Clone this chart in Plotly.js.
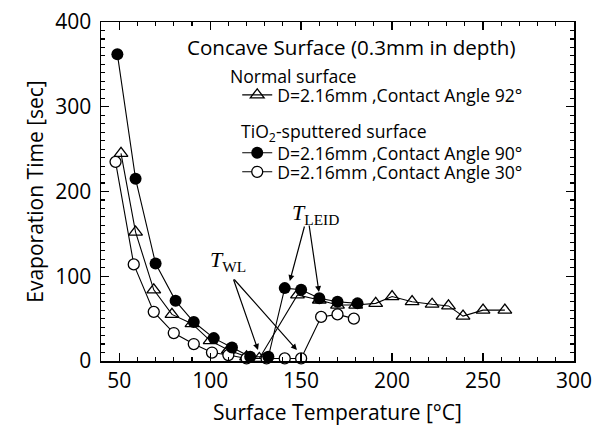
<!DOCTYPE html>
<html>
<head>
<meta charset="utf-8">
<script src="https://cdn.plot.ly/plotly-3.0.1.min.js"></script>
<style>html,body{margin:0;padding:0;background:#fff;}#chart{width:599px;height:431px;}</style>
</head>
<body>
<div id="chart"></div>
<script>
// Normal surface, contact angle 92° (open triangles)
const tempNormal92 = [51, 59, 69, 79, 90, 100, 110, 120, 127, 148, 160, 170, 180, 191, 200, 211, 222, 231, 239, 250, 262];
const timeNormal92 = [245, 152, 84, 55, 44, 24, 13, 5, 3, 78, 72, 66, 66, 68, 76, 70, 67, 65, 53, 60, 60];
// TiO2-sputtered, contact angle 90° (filled circles)
const tempTiO2_90 = [49, 59, 70, 81, 91, 102, 112, 122, 132, 141, 150, 160, 170, 181];
const timeTiO2_90 = [362, 215, 115, 71, 46, 27, 16, 5, 5, 86, 84, 74, 70, 68];
// TiO2-sputtered, contact angle 30° (open circles)
const tempTiO2_30 = [48, 58, 69, 80, 91, 101, 110, 120, 131, 141, 150, 161, 170, 179];
const timeTiO2_30 = [235, 114, 58, 33, 20, 10, 7, 3, 3, 3, 3, 52, 55, 50];

const xTicks = [50, 100, 150, 200, 250, 300];
const yTicks = [0, 100, 200, 300, 400];
const xRange = [40, 300];
const yRange = [0, 400];

const FONT = '"Open Sans", Lato, sans-serif';
const SERIF = '"Liberation Serif", "DejaVu Serif", serif';
const LEG_SIZE = 17.6;

const traces = [
  {x: tempNormal92, y: timeNormal92, mode: 'lines+markers', name: 'D=2.16mm ,Contact Angle 92°',
   legend: 'legend',
   line: {color: '#000', width: 1.1},
   marker: {symbol: 'triangle-up-open', size: 12, color: '#000', line: {width: 1.3, color: '#000'}}, cliponaxis: false},
  {x: tempTiO2_30, y: timeTiO2_30, mode: 'lines+markers', name: 'D=2.16mm ,Contact Angle 30°',
   legend: 'legend3',
   line: {color: '#000', width: 1.1},
   marker: {symbol: 'circle', size: 11, color: '#fff', line: {width: 1.3, color: '#000'}}, cliponaxis: false},
  {x: tempTiO2_90, y: timeTiO2_90, mode: 'lines+markers', name: 'D=2.16mm ,Contact Angle 90°',
   legend: 'legend2',
   line: {color: '#000', width: 1.1},
   marker: {symbol: 'circle', size: 12, color: '#000'}, cliponaxis: false}
];

const axisCommon = {
  showline: true, linecolor: '#000', linewidth: 1.5, mirror: 'ticks',
  ticks: 'inside', ticklen: 8, tickwidth: 1.3, tickcolor: '#000',
  showgrid: false, zeroline: false,
  tickfont: {family: FONT, size: 21, color: '#000'}
};
const minorTicks = {ticks: 'inside', dtick: 10, tick0: 0, ticklen: 4, tickwidth: 1.1, tickcolor: '#000'};

const legendCommon = {
  xanchor: 'left', yanchor: 'middle', bgcolor: 'rgba(0,0,0,0)', borderwidth: 0,
  font: {family: FONT, size: LEG_SIZE, color: '#000'}, itemwidth: 30
};

const arrowCommon = {text: '', showarrow: true, arrowhead: 2, arrowsize: 1, arrowwidth: 1.2, arrowcolor: '#000', axref: 'pixel', ayref: 'pixel', xref: 'x', yref: 'y'};

const layout = {
  width: 599, height: 431,
  margin: {l: 101, r: 25, t: 22, b: 70},
  paper_bgcolor: '#fff', plot_bgcolor: '#fff',
  font: {family: FONT, color: '#000'},
  xaxis: Object.assign({}, axisCommon, {
    range: xRange, tickvals: xTicks, minor: minorTicks,
    title: {text: 'Surface Temperature [°C]', font: {family: FONT, size: 21, color: '#000'}, standoff: 12}
  }),
  yaxis: Object.assign({}, axisCommon, {
    range: yRange, tickvals: yTicks, minor: minorTicks, ticklabelstandoff: 4,
    title: {text: 'Evaporation Time [sec]', font: {family: FONT, size: 21, color: '#000'}, standoff: 6}
  }),
  showlegend: true,
  legend: Object.assign({}, legendCommon, {x: 0.288, y: 0.785}),
  legend2: Object.assign({}, legendCommon, {x: 0.288, y: 0.614}),
  legend3: Object.assign({}, legendCommon, {x: 0.288, y: 0.558}),
  annotations: [
    {xref: 'paper', yref: 'paper', x: 0.178, y: 0.926, xanchor: 'left', yanchor: 'middle', showarrow: false,
     text: 'Concave Surface (0.3mm in depth)', font: {family: FONT, size: 20.6, color: '#000'}},
    {xref: 'paper', yref: 'paper', x: 0.268, y: 0.841, xanchor: 'left', yanchor: 'middle', showarrow: false,
     text: 'Normal surface', font: {family: FONT, size: LEG_SIZE, color: '#000'}},
    {xref: 'paper', yref: 'paper', x: 0.291, y: 0.673, xanchor: 'left', yanchor: 'middle', showarrow: false,
     text: 'TiO<sub>2</sub>-sputtered surface', font: {family: FONT, size: LEG_SIZE, color: '#000'}},
    {xref: 'x', yref: 'y', x: 109.8, y: 118, showarrow: false,
     text: '<i>T</i><sub>WL</sub>', font: {family: SERIF, size: 22, color: '#000'}},
    {xref: 'x', yref: 'y', x: 158.1, y: 173.5, showarrow: false,
     text: '<i>T</i><sub>LEID</sub>', font: {family: SERIF, size: 22, color: '#000'}},
    Object.assign({}, arrowCommon, {x: 126.3, y: 13, ax: -25, ay: -72}),
    Object.assign({}, arrowCommon, {x: 147.7, y: 13, ax: -64, ay: -72}),
    Object.assign({}, arrowCommon, {x: 143.8, y: 94.4, ax: 15, ay: -56}),
    Object.assign({}, arrowCommon, {x: 159.8, y: 81.4, ax: -10, ay: -68})
  ]
};

Plotly.newPlot('chart', traces, layout, {displayModeBar: false, staticPlot: true});
</script>
</body>
</html>
